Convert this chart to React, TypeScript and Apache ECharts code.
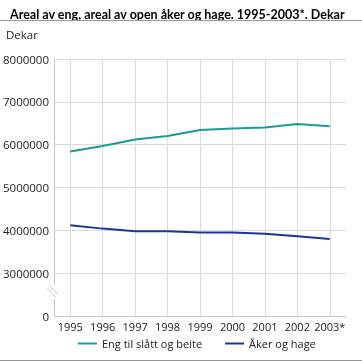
import React, { useEffect, useRef } from "react";
import * as echarts from "echarts";

const years = ["1995", "1996", "1997", "1998", "1999", "2000", "2001", "2002", "2003*"];
const engValues = [5840000, 5970000, 6120000, 6200000, 6340000, 6380000, 6400000, 6480000, 6430000];
const akerValues = [4120000, 4040000, 3980000, 3980000, 3950000, 3950000, 3920000, 3860000, 3800000];
const seriesNames = ["Eng til slått og beite", "Åker og hage"];
const yTickLabels = ["0", "3000000", "4000000", "5000000", "6000000", "7000000", "8000000"];
const breakOffset = 2000000;

const FONT = "'Open Sans', 'DejaVu Sans', sans-serif";

export default function App() {
  const ref = useRef<HTMLDivElement>(null);
  useEffect(() => {
    if (!ref.current) return;
    const chart = echarts.init(ref.current, undefined, { renderer: "svg" });
    const shift = (arr: number[]) => arr.map((v) => v - breakOffset);
    chart.setOption({
      animation: false,
      title: {
        text: "Areal av eng, areal av open åker og hage. 1995-2003*. Dekar",
        left: 5,
        top: 3,
        textStyle: { fontFamily: "Lato, 'Open Sans', sans-serif", fontSize: 12.5, fontWeight: "bold", color: "#000" },
      },
      grid: { left: 52, right: 16, top: 59, bottom: 46, containLabel: false },
      legend: {
        bottom: 8,
        left: 73,
        itemWidth: 19,
        itemHeight: 2,
        itemGap: 23,
        icon: "rect",
        textStyle: { fontFamily: FONT, fontSize: 11, color: "#222" },
        data: seriesNames,
      },
      xAxis: {
        type: "category",
        data: years,
        boundaryGap: true,
        axisLine: { show: true, lineStyle: { color: "#c8c8c8", width: 1 } },
        axisTick: { show: false, alignWithLabel: true },
        axisLabel: { fontFamily: FONT, fontSize: 11, color: "#222", margin: 5, interval: 0, hideOverlap: false },
        splitLine: { show: true, alignWithLabel: true, interval: 0, lineStyle: { color: "#dcdcdc", width: 1 } },
      },
      yAxis: {
        type: "value",
        min: 0,
        max: 6000000,
        interval: 1000000,
        axisLine: { show: true, lineStyle: { color: "#c8c8c8", width: 1 } },
        axisTick: { show: false },
        axisLabel: {
          fontFamily: FONT,
          fontSize: 11.5,
          color: "#222",
          margin: 5,
          formatter: (v: number) => yTickLabels[Math.round(v / 1000000)],
        },
        splitLine: { show: true, lineStyle: { color: "#dcdcdc", width: 1 } },
      },
      graphic: [
        { type: "line", shape: { x1: 0, y1: 20.5, x2: 362, y2: 20.5 }, style: { stroke: "#9a9a9a", lineWidth: 1 }, z: 100 },
        { type: "line", shape: { x1: 0, y1: 360.5, x2: 362, y2: 360.5 }, style: { stroke: "#9a9a9a", lineWidth: 1 }, z: 100 },
        { type: "text", left: 6, top: 28, style: { text: "Dekar", fontFamily: FONT, fontSize: 11.5, fill: "#222" }, z: 100 },
        { type: "rect", shape: { x: 49, y: 285, width: 7, height: 14 }, style: { fill: "#fff" }, z: 100 },
        { type: "line", shape: { x1: 48.5, y1: 285, x2: 57.5, y2: 293.5 }, style: { stroke: "#c8c8c8", lineWidth: 1 }, z: 101 },
        { type: "line", shape: { x1: 47, y1: 288.5, x2: 56, y2: 297 }, style: { stroke: "#c8c8c8", lineWidth: 1 }, z: 101 },
      ],
      series: [
        {
          name: seriesNames[0],
          type: "line",
          data: shift(engValues),
          symbol: "none",
          lineStyle: { color: "#1a9b98", width: 2 },
          itemStyle: { color: "#1a9b98" },
        },
        {
          name: seriesNames[1],
          type: "line",
          data: shift(akerValues),
          symbol: "none",
          lineStyle: { color: "#1c3792", width: 2 },
          itemStyle: { color: "#1c3792" },
        },
      ],
    });
    return () => chart.dispose();
  }, []);
  return <div ref={ref} style={{ position: "fixed", left: 0, top: 0, width: 362, height: 362 }} />;
}
